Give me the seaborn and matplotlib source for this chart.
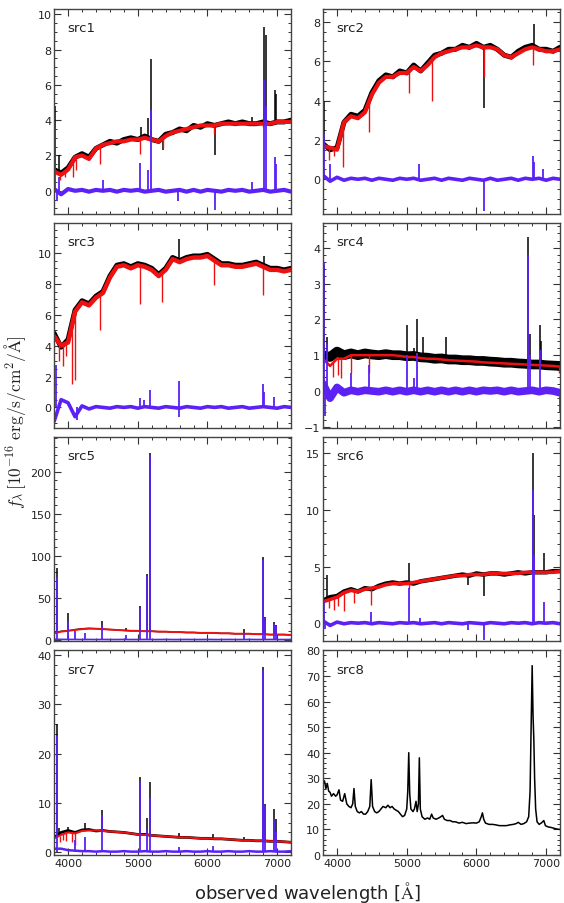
import numpy as np
import matplotlib
matplotlib.use("Agg")
import matplotlib.pyplot as plt
from matplotlib.ticker import MultipleLocator, AutoMinorLocator
import seaborn as sns

# wavelength grid of the sampled continua [A]
wl = np.arange(3800, 7201, 100)

# ---- src1 ----
src1_obs = [1.2, 1.0, 1.3, 1.9, 2.1, 1.9, 2.4, 2.6, 2.8, 2.7, 2.9, 3.0, 2.9, 3.1, 2.9, 2.8, 3.2, 3.3,
            3.5, 3.4, 3.7, 3.6, 3.8, 3.7, 3.8, 3.9, 3.8, 3.9, 3.8, 3.8, 3.9, 3.8, 3.9, 3.9, 4.0]
src1_mod = [1.1, 0.9, 1.2, 1.9, 2.0, 1.8, 2.4, 2.6, 2.7, 2.8, 2.8, 2.9, 2.9, 3.0, 2.9, 2.8, 3.1, 3.3,
            3.4, 3.5, 3.6, 3.7, 3.7, 3.7, 3.8, 3.8, 3.8, 3.8, 3.8, 3.8, 3.8, 3.8, 3.9, 3.9, 3.9]
src1_res = [0.1, -0.2, 0.1, 0.0, 0.05, -0.05, 0.05, 0.0, 0.05, -0.05, 0.05, 0.0, 0.05, -0.05, 0.0, 0.05,
            -0.05, 0.0, 0.05, -0.05, 0.05, -0.05, 0.05, 0.0, -0.05, 0.05, 0.0, 0.05, -0.05, 0.0, 0.05,
            -0.05, 0.0, 0.05, -0.05]
src1_obs_wl = [3815, 3869, 5045, 5147, 5196, 5360, 6110, 6640, 6814, 6833, 6970, 6985]
src1_obs_pk = [4.8, 2.0, 3.6, 4.1, 7.45, 2.3, 2.0, 4.2, 9.3, 8.8, 5.7, 5.5]
src1_mod_wl = [3880, 3960, 4067, 4114, 4457, 5029, 5362, 6100, 6790]
src1_mod_pk = [0.6, 0.8, 0.8, 1.2, 1.5, 2.1, 2.4, 3.2, 3.6]
src1_res_wl = [3815, 3845, 3869, 4505, 5029, 5147, 5196, 5570, 6110, 6635, 6814, 6833, 6970, 6985]
src1_res_pk = [3.6, -0.6, 0.8, 0.6, 1.6, 1.2, 4.6, -0.6, -1.1, 0.5, 6.3, 4.8, 1.9, 1.5]

# ---- src2 ----
src2_obs = [1.8, 1.5, 1.6, 2.9, 3.3, 3.2, 3.5, 4.4, 5.0, 5.3, 5.2, 5.5, 5.4, 5.8, 5.5, 5.9, 6.3, 6.4,
            6.6, 6.6, 6.8, 6.7, 6.9, 6.7, 6.8, 6.6, 6.3, 6.2, 6.5, 6.7, 6.8, 6.6, 6.6, 6.5, 6.7]
src2_mod = [1.7, 1.6, 1.5, 2.9, 3.2, 3.1, 3.4, 4.3, 4.9, 5.2, 5.2, 5.4, 5.4, 5.7, 5.5, 5.8, 6.2, 6.4,
            6.5, 6.6, 6.7, 6.7, 6.8, 6.7, 6.7, 6.6, 6.3, 6.2, 6.4, 6.6, 6.7, 6.6, 6.5, 6.5, 6.6]
src2_res = [0.2, -0.1, 0.1, -0.05, 0.05, 0.0, 0.05, -0.05, 0.05, 0.0, -0.05, 0.05, 0.0, 0.05, -0.05, 0.0,
            0.05, -0.05, 0.05, 0.0, -0.05, 0.05, 0.0, -0.05, 0.05, -0.05, 0.0, 0.05, -0.05, 0.05, 0.0,
            0.05, -0.05, 0.05, 0.0]
src2_obs_wl = [3815, 6110, 6824]
src2_obs_pk = [4.0, 3.6, 7.9]
src2_mod_wl = [3880, 3960, 4086, 4452, 5038, 5357, 6110, 6814]
src2_mod_pk = [1.0, 1.2, 0.6, 2.4, 4.4, 4.0, 5.2, 5.8]
src2_res_wl = [3810, 3900, 5181, 6110, 6814, 6830, 6960]
src2_res_pk = [2.3, 0.8, 0.8, -1.6, 1.2, 0.9, 0.5]

# ---- src3 ----
src3_obs = [4.8, 3.9, 4.4, 6.3, 6.9, 6.7, 7.2, 7.5, 8.5, 9.2, 9.3, 9.1, 9.3, 9.2, 9.0, 8.6, 9.0, 9.7,
            9.5, 9.7, 9.8, 9.8, 9.9, 9.6, 9.3, 9.3, 9.2, 9.2, 9.3, 9.4, 9.2, 9.0, 9.0, 8.9, 9.0]
src3_mod = [4.6, 4.0, 4.2, 6.2, 6.8, 6.6, 7.1, 7.4, 8.4, 9.1, 9.2, 9.0, 9.2, 9.1, 8.9, 8.5, 8.9, 9.6,
            9.4, 9.6, 9.7, 9.7, 9.8, 9.5, 9.2, 9.2, 9.1, 9.1, 9.2, 9.3, 9.1, 8.9, 8.9, 8.8, 8.9]
src3_res = [-0.9, 0.5, 0.3, -0.6, 0.1, -0.1, 0.05, 0.0, -0.05, 0.05, 0.0, 0.05, -0.05, 0.05, 0.0, -0.05,
            0.05, 0.0, -0.05, 0.05, 0.0, -0.05, 0.05, 0.0, 0.05, -0.05, 0.0, 0.05, -0.05, 0.0, 0.05,
            0.0, -0.05, 0.05, 0.0]
src3_obs_wl = [3805, 5590, 6814]
src3_obs_pk = [5.5, 10.9, 9.8]
src3_mod_wl = [3870, 3933, 3970, 4052, 4100, 4457, 5029, 5348, 6090, 6790]
src3_mod_pk = [3.0, 2.7, 3.3, 1.5, 1.8, 5.0, 6.7, 6.8, 7.9, 7.3]
src3_res_wl = [3830, 4124, 5029, 5090, 5171, 5590, 5595, 6800, 6814, 6950]
src3_res_pk = [2.75, -0.8, 0.6, 0.5, 1.15, 1.7, -0.6, 1.5, 1.0, 0.7]

# ---- src4 ----
src4_obs = [1.0, 0.95, 1.1, 1.0, 1.05, 1.0, 1.05, 1.02, 1.0, 1.03, 1.0, 1.0, 0.97, 0.98, 0.94, 0.93, 0.9,
            0.91, 0.88, 0.88, 0.86, 0.86, 0.84, 0.84, 0.82, 0.81, 0.79, 0.79, 0.77, 0.76, 0.74, 0.74,
            0.72, 0.71, 0.7]
src4_mod = [0.9, 0.7, 0.9, 0.9, 1.0, 1.0, 1.0, 1.0, 1.0, 1.0, 1.0, 0.98, 0.95, 0.95, 0.92, 0.9, 0.9,
            0.88, 0.86, 0.85, 0.84, 0.83, 0.82, 0.8, 0.79, 0.78, 0.77, 0.76, 0.75, 0.74, 0.73, 0.72,
            0.71, 0.7, 0.68]
src4_res = [0.2, -0.2, 0.1, -0.05, 0.02, -0.02, 0.02, 0.0, -0.02, 0.02, -0.02, 0.02, -0.02, 0.02, -0.02,
            0.02, -0.02, 0.02, -0.02, 0.02, -0.02, 0.02, -0.02, 0.02, 0.0, 0.02, -0.02, 0.02, -0.02, 0.0,
            0.02, -0.02, 0.02, 0.0, -0.05]
src4_obs_wl = [3810, 3850, 4997, 5098, 5148, 5240, 5562, 6747, 6768, 6912, 6930]
src4_obs_pk = [3.5, 1.5, 1.85, 1.2, 2.0, 1.5, 1.5, 4.3, 1.6, 1.85, 1.4]
src4_mod_wl = [3943, 4014, 4062, 4205, 4457, 7190]
src4_mod_pk = [0.4, 0.45, 0.35, 0.5, 0.5, 0.5]
src4_res_wl = [3812, 3830, 3850, 4205, 4457, 4997, 5098, 5148, 6747, 6768, 6912, 7195]
src4_res_pk = [3.6, -0.7, 1.3, 0.5, 0.73, 1.0, 0.35, 1.05, 3.8, 1.0, 1.15, -0.6]

# ---- src5 ----
src5_obs = [8, 10, 10.5, 12, 13, 13.5, 13, 12.5, 12, 11.5, 11, 10.5, 10.5, 10, 10, 9.5, 9.5, 9, 9, 8.5,
            8.5, 8, 8, 8, 7.5, 7.5, 7, 7, 7, 6.5, 6.5, 6, 6, 6, 5.5]
src5_mod = [7.5, 9.5, 10.5, 11.5, 12.5, 13, 13, 12.5, 12, 11.5, 11, 10.5, 10.5, 10, 10, 9.5, 9.5, 9, 9,
            8.5, 8.5, 8, 8, 8, 7.5, 7.5, 7, 7, 7, 6.5, 6.5, 6, 6, 6, 5.5]
src5_res = [0.5, 0.3, 0.2, 0.2, 0.1, 0.2, 0.1, 0.2, 0.1, 0.1, 0.2, 0.1, 0.1, 0.2, 0.1, 0.1, 0.2, 0.1,
            0.1, 0.2, 0.1, 0.1, 0.2, 0.1, 0.1, 0.2, 0.1, 0.1, 0.2, 0.1, 0.1, 0.2, 0.1, 0.1, 0.2]
src5_obs_wl = [3848, 4005, 4100, 4243, 4490, 4838, 5029, 5133, 5181, 6529, 6790, 6824, 6957, 6981]
src5_obs_pk = [85, 32, 12, 14, 22, 14, 40, 78, 222, 13, 99, 27, 21, 17]
src5_mod_wl = []
src5_mod_pk = []
src5_res_wl = [3848, 4005, 4100, 4243, 4490, 4838, 5029, 5133, 5181, 6529, 6790, 6824, 6957, 6981]
src5_res_pk = [75, 22, 10, 8, 17, 5, 38, 76, 220, 8, 95, 26, 19, 16]

# ---- src6 ----
src6_obs = [2.0, 2.3, 2.4, 2.8, 3.0, 2.8, 3.1, 3.0, 3.3, 3.5, 3.6, 3.5, 3.6, 3.5, 3.7, 3.8, 3.9, 4.0,
            4.1, 4.2, 4.3, 4.2, 4.4, 4.3, 4.4, 4.4, 4.3, 4.4, 4.5, 4.4, 4.5, 4.5, 4.5, 4.6, 4.6]
src6_mod = [1.9, 2.1, 2.3, 2.7, 2.9, 2.8, 3.0, 3.1, 3.2, 3.4, 3.5, 3.5, 3.5, 3.6, 3.7, 3.8, 3.9, 4.0,
            4.1, 4.2, 4.2, 4.3, 4.3, 4.3, 4.4, 4.4, 4.4, 4.4, 4.4, 4.5, 4.5, 4.5, 4.5, 4.5, 4.6]
src6_res = [0.2, -0.2, 0.1, -0.05, 0.05, 0.0, 0.05, -0.05, 0.05, 0.0, -0.05, 0.05, 0.0, 0.05, -0.05, 0.0,
            0.05, -0.05, 0.05, 0.0, -0.05, 0.05, 0.0, -0.05, 0.05, 0.0, -0.05, 0.05, 0.0, 0.05, -0.05,
            0.05, 0.0, 0.05, -0.05]
src6_obs_wl = [3862, 5029, 5886, 6110, 6810, 6824, 6967]
src6_obs_pk = [4.3, 5.3, 3.4, 2.4, 15.0, 9.6, 6.2]
src6_mod_wl = [3890, 3960, 4020, 4100, 4243, 4490, 5029]
src6_mod_pk = [1.3, 1.2, 1.5, 1.1, 1.8, 1.6, 3.0]
src6_res_wl = [3810, 3830, 4490, 5029, 5190, 5886, 6110, 6810, 6824, 6967]
src6_res_pk = [2.0, -0.5, 1.0, 3.1, 0.5, -0.6, -1.5, 11.8, 6.0, 1.9]

# ---- src7 ----
src7_obs = [3.0, 4.0, 4.4, 4.0, 4.5, 4.6, 4.3, 4.4, 4.2, 4.1, 4.0, 3.8, 3.6, 3.6, 3.4, 3.3, 3.2, 3.1,
            3.0, 3.0, 2.9, 2.8, 2.8, 2.7, 2.7, 2.6, 2.5, 2.4, 2.4, 2.3, 2.3, 2.2, 2.2, 2.1, 2.0]
src7_mod = [2.8, 3.5, 4.0, 3.8, 4.3, 4.4, 4.4, 4.3, 4.2, 4.1, 4.0, 3.8, 3.6, 3.5, 3.4, 3.3, 3.2, 3.1,
            3.0, 3.0, 2.9, 2.8, 2.8, 2.7, 2.7, 2.6, 2.5, 2.4, 2.4, 2.3, 2.3, 2.2, 2.2, 2.1, 2.0]
src7_res = [0.7, 0.7, 0.4, 0.3, 0.2, 0.2, 0.1, 0.2, 0.1, 0.1, 0.2, 0.1, 0.1, 0.2, 0.1, 0.1, 0.2, 0.1,
            0.1, 0.2, 0.1, 0.1, 0.2, 0.1, 0.1, 0.2, 0.1, 0.1, 0.2, 0.1, 0.1, 0.2, 0.1, 0.1, 0.2]
src7_obs_wl = [3848, 3870, 4005, 4243, 4490, 5029, 5129, 5181, 5590, 6076, 6529, 6790, 6824, 6957, 6981]
src7_obs_pk = [26, 5, 5.2, 6.0, 8.5, 15.2, 7.0, 14.3, 3.8, 3.6, 3.0, 37.6, 9.7, 8.7, 6.8]
src7_mod_wl = [3880, 3930, 3970, 4050, 4100]
src7_mod_pk = [2.0, 2.5, 2.2, 2.0, 1.4]
src7_res_wl = [3848, 4100, 4243, 4490, 5029, 5129, 5181, 5590, 6076, 6790, 6824, 6957, 6981]
src7_res_pk = [23.5, 2.5, 3.0, 7.5, 14.5, 4.5, 11.0, 1.0, 1.3, 37.0, 9.5, 6.7, 4.0]

# ---- src8 (broad-line object, only the observed spectrum) ----
src8_wl = [3800, 3820, 3840, 3860, 3880, 3900, 3920, 3950, 3980, 4000, 4028, 4050, 4080, 4110, 4140,
           4170, 4200, 4225, 4243, 4262, 4290, 4320, 4350, 4380, 4410, 4440, 4470, 4490, 4510, 4540,
           4570, 4600, 4630, 4660, 4700, 4730, 4760, 4790, 4820, 4850, 4880, 4910, 4940, 4970, 5000,
           5015, 5029, 5043, 5060, 5090, 5110, 5133, 5150, 5168, 5181, 5195, 5220, 5260, 5300, 5330,
           5357, 5380, 5420, 5460, 5490, 5514, 5540, 5580, 5620, 5660, 5700, 5750, 5800, 5850, 5900,
           5950, 6000, 6040, 6070, 6086, 6105, 6130, 6180, 6230, 6280, 6330, 6380, 6430, 6480, 6530,
           6570, 6600, 6640, 6680, 6720, 6750, 6770, 6785, 6800, 6812, 6824, 6835, 6850, 6870, 6900,
           6930, 6967, 6990, 7030, 7070, 7110, 7150, 7200]
src8_obs = [27.5, 29, 26, 28, 25, 24.5, 23, 24, 23, 23.5, 25.5, 21.5, 21, 24, 20,
            19, 18.5, 20, 26, 19, 17, 16.5, 17, 16, 16, 17, 19, 29.5, 19, 17,
            16.5, 17, 18, 19, 18.5, 19.5, 18.5, 19, 18, 17.5, 17, 16, 15, 15.5, 18,
            25, 40, 24, 18, 17, 18, 21, 17, 20, 38, 18, 15, 14, 14.5, 14,
            16, 14.5, 14, 14.5, 15, 15.5, 14, 13.5, 13.5, 13, 13, 12.5, 12.8, 12.3, 12.5,
            12.6, 12.5, 13, 15, 16.5, 14, 12.5, 12, 12, 11.8, 11.5, 11.5, 11.5, 11.8, 12,
            12.3, 12.8, 12, 12.3, 13, 15, 25, 50, 74, 55, 45, 30, 18, 13, 12,
            12.5, 13.5, 11.5, 11, 10.8, 10.5, 10.2, 10]

names = ["src1", "src2", "src3", "src4", "src5", "src6", "src7", "src8"]
ylims = [(-1.3, 10.3), (-1.75, 8.65), (-1.3, 11.95), (-1.02, 4.7),
         (-2, 242), (-1.6, 16.5), (-0.6, 41), (0, 80)]
ysteps = [2, 2, 2, 1, 50, 5, 10, 10]
# line widths standing in for the pixel noise of each spectrum (obs, model, residual)
obs_lw = [3.6, 3.6, 3.6, 7.0, 1.0, 3.2, 2.0]
mod_lw = [3.0, 3.0, 3.2, 1.8, 1.4, 2.6, 1.5]
res_lw = [3.0, 2.6, 2.6, 5.5, 1.2, 2.6, 1.8]

spectra = [
    (src1_obs, src1_mod, src1_res, src1_obs_wl, src1_obs_pk, src1_mod_wl, src1_mod_pk, src1_res_wl, src1_res_pk),
    (src2_obs, src2_mod, src2_res, src2_obs_wl, src2_obs_pk, src2_mod_wl, src2_mod_pk, src2_res_wl, src2_res_pk),
    (src3_obs, src3_mod, src3_res, src3_obs_wl, src3_obs_pk, src3_mod_wl, src3_mod_pk, src3_res_wl, src3_res_pk),
    (src4_obs, src4_mod, src4_res, src4_obs_wl, src4_obs_pk, src4_mod_wl, src4_mod_pk, src4_res_wl, src4_res_pk),
    (src5_obs, src5_mod, src5_res, src5_obs_wl, src5_obs_pk, src5_mod_wl, src5_mod_pk, src5_res_wl, src5_res_pk),
    (src6_obs, src6_mod, src6_res, src6_obs_wl, src6_obs_pk, src6_mod_wl, src6_mod_pk, src6_res_wl, src6_res_pk),
    (src7_obs, src7_mod, src7_res, src7_obs_wl, src7_obs_pk, src7_mod_wl, src7_mod_pk, src7_res_wl, src7_res_pk),
]

RED = "#ee1111"
PURPLE = "#5b21f5"

sns.set_style("ticks")
plt.rcParams["font.family"] = ["DejaVu Sans"]
plt.rcParams["mathtext.fontset"] = "cm"
plt.rcParams["xtick.direction"] = "in"
plt.rcParams["ytick.direction"] = "in"
plt.rcParams["xtick.top"] = True
plt.rcParams["ytick.right"] = True

fig, axes = plt.subplots(4, 2, figsize=(5.64, 9.04), dpi=100, sharex=True)
fig.subplots_adjust(left=0.096, right=0.993, top=0.989, bottom=0.053, wspace=0.135, hspace=0.044)

for i, ax in enumerate(axes.flat):
    if i < 7:
        obs, mod, res, owl, opk, mwl, mpk, rwl, rpk = spectra[i]
        sns.lineplot(x=wl, y=obs, ax=ax, color="black", lw=obs_lw[i], estimator=None, sort=False)
        ax.vlines(owl, np.interp(owl, wl, obs), opk, color="black", lw=1.1)
        sns.lineplot(x=wl, y=mod, ax=ax, color=RED, lw=mod_lw[i], estimator=None, sort=False)
        if len(mwl):
            ax.vlines(mwl, np.interp(mwl, wl, mod), mpk, color=RED, lw=1.0)
        sns.lineplot(x=wl, y=res, ax=ax, color=PURPLE, lw=res_lw[i], estimator=None, sort=False)
        ax.vlines(rwl, 0, rpk, color=PURPLE, lw=1.3)
    else:
        sns.lineplot(x=src8_wl, y=src8_obs, ax=ax, color="black", lw=1.1, estimator=None, sort=False)

    ax.set_xlim(3800, 7200)
    ax.set_ylim(*ylims[i])
    ax.xaxis.set_major_locator(MultipleLocator(1000))
    ax.xaxis.set_minor_locator(AutoMinorLocator())
    ax.yaxis.set_major_locator(MultipleLocator(ysteps[i]))
    ax.yaxis.set_minor_locator(AutoMinorLocator())
    ax.tick_params(which="major", length=5, width=0.8, color="#333333", labelsize=8,
                   labelcolor="#222222", top=True, right=True, pad=2)
    ax.tick_params(which="minor", length=2.5, width=0.7, color="#333333", top=True, right=True)
    for sp in ax.spines.values():
        sp.set_color("#444444")
        sp.set_linewidth(1.0)
    ax.set_xlabel("")
    ax.set_ylabel("")
    ax.text(0.055, 0.94, names[i], transform=ax.transAxes, ha="left", va="top", fontsize=9.5,
            color="#222222")

fig.text(0.545, 0.013, r"observed wavelength [$\mathrm{\AA}$]", ha="center", va="center",
         fontsize=13, color="#222222")
fig.text(0.027, 0.533, r"$f_\lambda\,[10^{-16}\ \mathrm{erg/s/cm^2/\AA}]$", rotation=90,
         ha="center", va="center", fontsize=12.5, color="#222222")

fig.savefig("out.png", dpi=100)
